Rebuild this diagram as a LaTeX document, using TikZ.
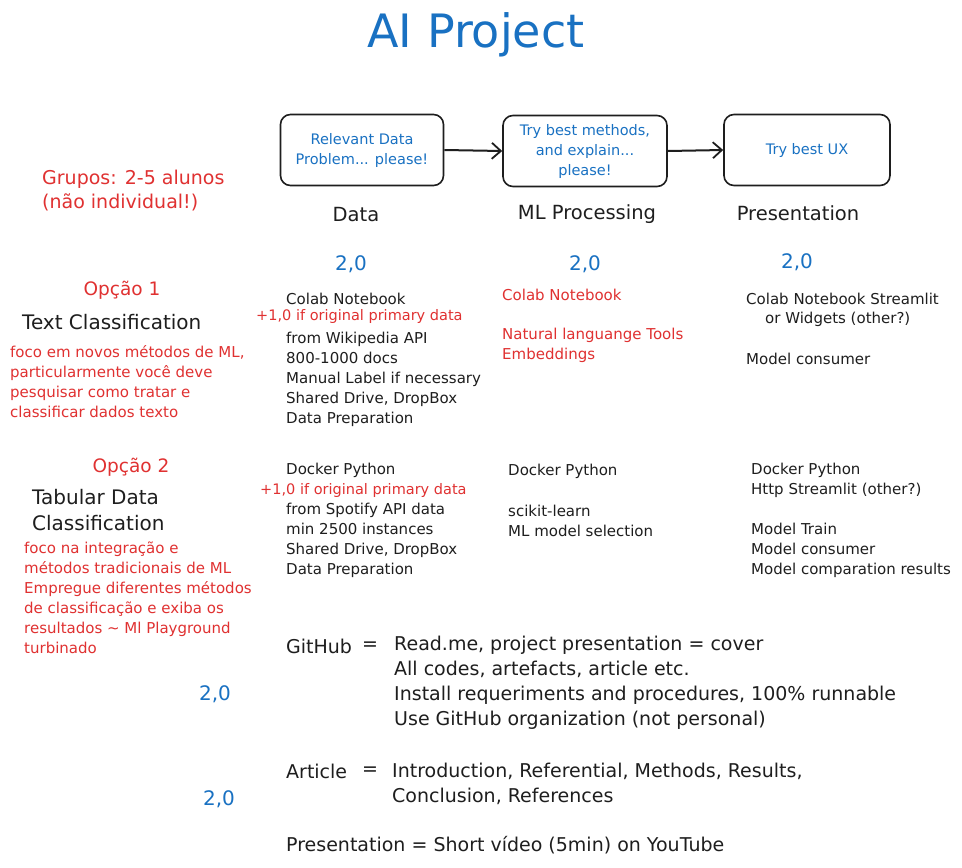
\documentclass[tikz,border=0pt]{standalone}
\usepackage{fontspec}
\setmainfont{DejaVu Sans}
\usetikzlibrary{arrows.meta}

\definecolor{ink}{HTML}{1E1E1E}
\definecolor{bluenote}{HTML}{1971C2}
\definecolor{rednote}{HTML}{E03131}

\tikzset{
  txt/.style={font=\fontsize{15}{20}\selectfont, text=ink, align=left, anchor=west, inner sep=0pt},
  rtxt/.style={txt, text=rednote},
  extra/.style={rtxt, font=\fontsize{14.5}{18}\selectfont},
  big/.style={txt, font=\fontsize{19}{25}\selectfont},
  head/.style={font=\fontsize{19.5}{22}\selectfont, text=ink, inner sep=0pt},
  grade/.style={font=\fontsize{20}{22}\selectfont, text=bluenote, inner sep=0pt},
  opt/.style={font=\fontsize{18.5}{22}\selectfont, text=rednote, inner sep=0pt},
  stage/.style={draw=ink, line width=1.6pt, rounded corners=10pt, minimum height=71pt,
    align=center, text=bluenote, font=\fontsize{14.5}{20}\selectfont, inner sep=2pt},
  flow/.style={draw=ink, line width=2pt, -{Straight Barb[length=9pt, width=16pt, line width=1.8pt]}}
}

\begin{document}
\begin{tikzpicture}[x=1pt, y=-1pt]
  \useasboundingbox[fill=white] (0,0) rectangle (962,868);

  \node[font=\fontsize{46}{50}\selectfont, text=bluenote] (title) at (476,35) {AI Project};

  % pipeline
  \node[stage, minimum width=163pt] (bdata) at (362,150) {Relevant Data\\Problem... please!};
  \node[stage, minimum width=164pt] (bml) at (585,151) {Try best methods,\\and explain...\\please!};
  \node[stage, minimum width=166pt] (bpres) at (807,150) {Try best UX};
  \draw[flow] (bdata.east) -- (bml.west);
  \draw[flow] (bml.east) -- (bpres.west);

  \node[head] (hdata) at (356,215) {Data};
  \node[head] (hml) at (587,214) {ML Processing};
  \node[head] (hpres) at (798,213) {Presentation};

  \node[grade] (gdata) at (351,264) {2,0};
  \node[grade] (gml) at (585,264) {2,0};
  \node[grade] (gpres) at (797,262) {2,0};

  \node[rtxt, font=\fontsize{19}{24}\selectfont] (grupos) at (42,191) {Grupos: 2-5 alunos\\(não individual!)};

  % option 1
  \node[opt] (op1) at (122,290) {Opção 1};
  \node[txt, font=\fontsize{20}{26}\selectfont] (op1name) at (22,322) {Text Classification};
  \node[rtxt] (op1note) at (10,382) {foco em novos métodos de ML,\\particularmente você deve\\pesquisar como tratar e\\classificar dados texto};

  \node[txt] (d1a) at (286,299) {Colab Notebook};
  \node[extra] (d1b) at (256,316) {+1,0 if original primary data};
  \node[txt] (d1c) at (286,379) {from Wikipedia API\\800-1000 docs\\Manual Label if necessary\\Shared Drive, DropBox\\Data Preparation};

  \node[rtxt] (m1a) at (502,295) {Colab Notebook};
  \node[rtxt] (m1b) at (502,345) {Natural languange Tools\\Embeddings};

  \node[txt] (p1a) at (746,299) {Colab Notebook Streamlit};
  \node[txt] (p1b) at (765,319) {or Widgets (other?)};
  \node[txt] (p1c) at (746,359) {Model consumer};

  % option 2
  \node[opt] (op2) at (131,467) {Opção 2};
  \node[txt, font=\fontsize{20}{26}\selectfont] (op2name) at (32,510) {Tabular Data\\Classification};
  \node[rtxt] (op2note) at (24,598) {foco na integração e\\métodos tradicionais de ML\\Empregue diferentes métodos\\de classificação e exiba os\\resultados \textasciitilde{} Ml Playground\\turbinado};

  \node[txt] (d2a) at (286,470) {Docker Python};
  \node[extra] (d2b) at (260,490) {+1,0 if original primary data};
  \node[txt] (d2c) at (286,540) {from Spotify API data\\min 2500 instances\\Shared Drive, DropBox\\Data Preparation};

  \node[txt] (m2a) at (508,471) {Docker Python};
  \node[txt] (m2b) at (508,521) {scikit-learn\\ML model selection};

  \node[txt] (p2a) at (751,480) {Docker Python\\Http Streamlit (other?)};
  \node[txt] (p2b) at (751,550) {Model Train\\Model consumer\\Model comparation results};

  % deliverables
  \node[big] (gith) at (286,646) {GitHub};
  \node[big] (giteq) at (362,646) {=};
  \node[big] (gitlist) at (394,683) {Read.me, project presentation = cover\\All codes, artefacts, article etc.\\Install requeriments and procedures, 100\% runnable\\Use GitHub organization (not personal)};
  \node[grade] (ggit) at (215,694) {2,0};

  \node[big] (arth) at (286,771) {Article};
  \node[big] (arteq) at (362,771) {=};
  \node[big] (artlist) at (392,783.5) {Introduction, Referential, Methods, Results,\\Conclusion, References};
  \node[grade] (gart) at (219,799) {2,0};

  \node[big] (pres) at (286,845) {Presentation = Short vídeo (5min) on YouTube};
\end{tikzpicture}
\end{document}
